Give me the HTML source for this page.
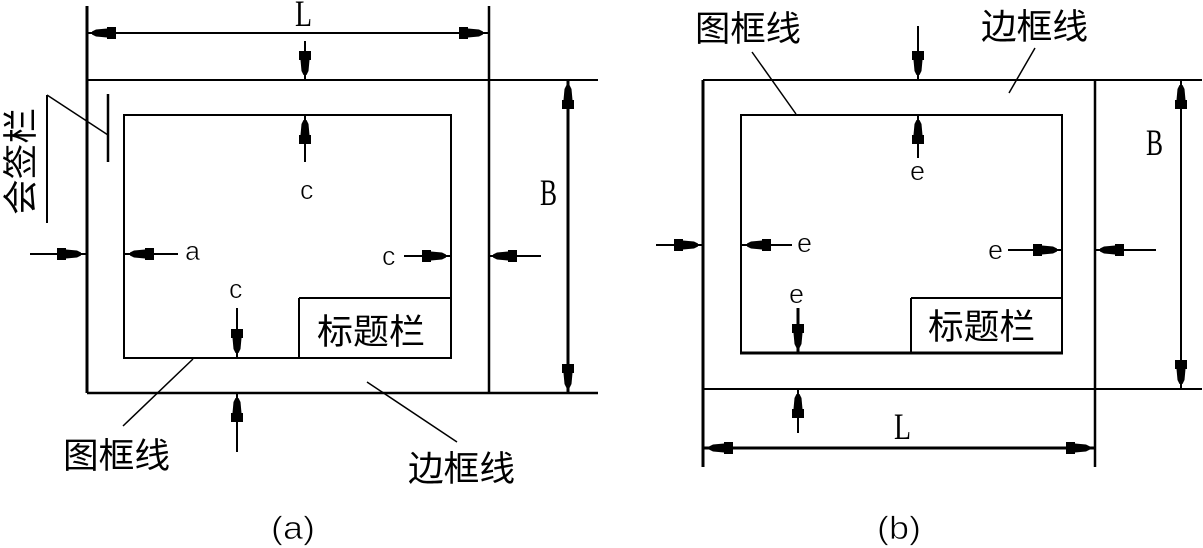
<!DOCTYPE html>
<html lang="zh">
<head>
<meta charset="utf-8">
<title>图框格式</title>
<style>
html,body{margin:0;padding:0;background:#fff;}
svg{display:block;}
.cjk{font-family:"Liberation Sans","Noto Sans CJK SC","WenQuanYi Zen Hei",sans-serif;font-size:35px;fill:#000;}
.big{font-family:"Liberation Serif",serif;font-size:37px;fill:#000;}
.sm{font-family:"Liberation Sans",sans-serif;font-size:27px;fill:#000;stroke:#fff;stroke-width:.6px;}
.par{font-family:"Liberation Sans",sans-serif;font-size:32px;fill:#000;stroke:#fff;stroke-width:.7px;}
</style>
</head>
<body>
<svg xmlns="http://www.w3.org/2000/svg" width="1203" height="548" viewBox="0 0 1203 548">
<defs>
<polygon id="ar" points="4,-1.5 8,-3.5 19,-4.5 19,-6 28,-6 28,6 19,6 19,4.5 8,3.5 4,1.5" fill="#000"/>
</defs>
<rect width="1203" height="548" fill="#fff"/>

<!-- (a) frame -->
<g stroke="#000" fill="none">
<path d="M87 6V393" stroke-width="3"/>
<path d="M489 6V393" stroke-width="2.5"/>
<path d="M87 80H598" stroke-width="2"/>
<path d="M87 393H598" stroke-width="2.5"/>
<path d="M87 33H489" stroke-width="2"/>
<rect x="124" y="115" width="327" height="243" stroke-width="2"/>
<path d="M299 298V358M299 298H451" stroke-width="2"/>
<path d="M568 80V393" stroke-width="3"/>
<path d="M305 41V80M305 115V162M30 254H87M124 254H178M404 256H451M490 256H541M237 308V358M237 393V452" stroke-width="2"/>
<path d="M47 95V223" stroke-width="2"/>
<path d="M47 95L108 135" stroke-width="1.5"/>
<path d="M108 94V162" stroke-width="2.5"/>
<path d="M193 359L123 426M367 382L457 442" stroke-width="1.5"/>
</g>
<use href="#ar" transform="translate(88,33)"/>
<use href="#ar" transform="translate(487,33) rotate(180)"/>
<use href="#ar" transform="translate(305,79) rotate(-90)"/>
<use href="#ar" transform="translate(305,116) rotate(90)"/>
<use href="#ar" transform="translate(85,254) rotate(180)"/>
<use href="#ar" transform="translate(126,254)"/>
<use href="#ar" transform="translate(450,256) rotate(180)"/>
<use href="#ar" transform="translate(489,256)"/>
<use href="#ar" transform="translate(237,357) rotate(-90)"/>
<use href="#ar" transform="translate(237,394) rotate(90)"/>
<use href="#ar" transform="translate(568,81) rotate(90)"/>
<use href="#ar" transform="translate(568,392) rotate(-90)"/>

<text class="big" x="295" y="26" textLength="17" lengthAdjust="spacingAndGlyphs">L</text>
<text class="big" x="540" y="205" textLength="17" lengthAdjust="spacingAndGlyphs">B</text>
<text class="sm" x="300" y="199">c</text>
<text class="sm" x="382" y="265">c</text>
<text class="sm" x="229" y="298">c</text>
<text class="sm" x="185" y="260">a</text>
<text class="cjk" x="63" y="468" textLength="107" lengthAdjust="spacingAndGlyphs">图框线</text>
<text class="cjk" x="408" y="481" textLength="107" lengthAdjust="spacingAndGlyphs">边框线</text>
<text class="cjk" x="317" y="344" textLength="108" lengthAdjust="spacingAndGlyphs">标题栏</text>
<text class="cjk" transform="translate(33,215) rotate(-90)" textLength="107" lengthAdjust="spacingAndGlyphs">会签栏</text>
<text class="par" x="271" y="539" textLength="44" lengthAdjust="spacingAndGlyphs">(a)</text>

<!-- (b) frame -->
<g stroke="#000" fill="none">
<path d="M703 80V467" stroke-width="3"/>
<path d="M1095 80V467" stroke-width="2.5"/>
<path d="M703 80H1202" stroke-width="2"/>
<path d="M703 389H1202" stroke-width="2"/>
<path d="M703 448H1095" stroke-width="3"/>
<path d="M741 353V115H1062V353" stroke-width="2"/>
<path d="M740 353H1063" stroke-width="3"/>
<path d="M911 298V353M911 298H1062" stroke-width="2"/>
<path d="M1181 80V389" stroke-width="2"/>
<path d="M918 26V80M918 115V158M656 245H703M741 245H792M1008 250H1062M1096 250H1156M798 389V433" stroke-width="2"/>
<path d="M798 308V353" stroke-width="3"/>
<path d="M752 52L796 114M1035 48L1009 93" stroke-width="1.5"/>
</g>
<use href="#ar" transform="translate(918,79) rotate(-90)"/>
<use href="#ar" transform="translate(918,116) rotate(90)"/>
<use href="#ar" transform="translate(702,245) rotate(180)"/>
<use href="#ar" transform="translate(743,245)"/>
<use href="#ar" transform="translate(1061,250) rotate(180)"/>
<use href="#ar" transform="translate(1096,250)"/>
<use href="#ar" transform="translate(798,352) rotate(-90)"/>
<use href="#ar" transform="translate(798,390) rotate(90)"/>
<use href="#ar" transform="translate(705,448)"/>
<use href="#ar" transform="translate(1094,448) rotate(180)"/>
<use href="#ar" transform="translate(1181,81) rotate(90)"/>
<use href="#ar" transform="translate(1181,388) rotate(-90)"/>

<text class="big" x="894" y="439" textLength="17" lengthAdjust="spacingAndGlyphs">L</text>
<text class="big" x="1146" y="155" textLength="17" lengthAdjust="spacingAndGlyphs">B</text>
<text class="sm" x="910" y="180">e</text>
<text class="sm" x="797" y="252">e</text>
<text class="sm" x="988" y="259">e</text>
<text class="sm" x="789" y="303">e</text>
<text class="cjk" x="695" y="41" textLength="106" lengthAdjust="spacingAndGlyphs">图框线</text>
<text class="cjk" x="981" y="39" textLength="107" lengthAdjust="spacingAndGlyphs">边框线</text>
<text class="cjk" x="928" y="339" textLength="107" lengthAdjust="spacingAndGlyphs">标题栏</text>
<text class="par" x="877" y="539" textLength="44" lengthAdjust="spacingAndGlyphs">(b)</text>
</svg>
</body>
</html>
